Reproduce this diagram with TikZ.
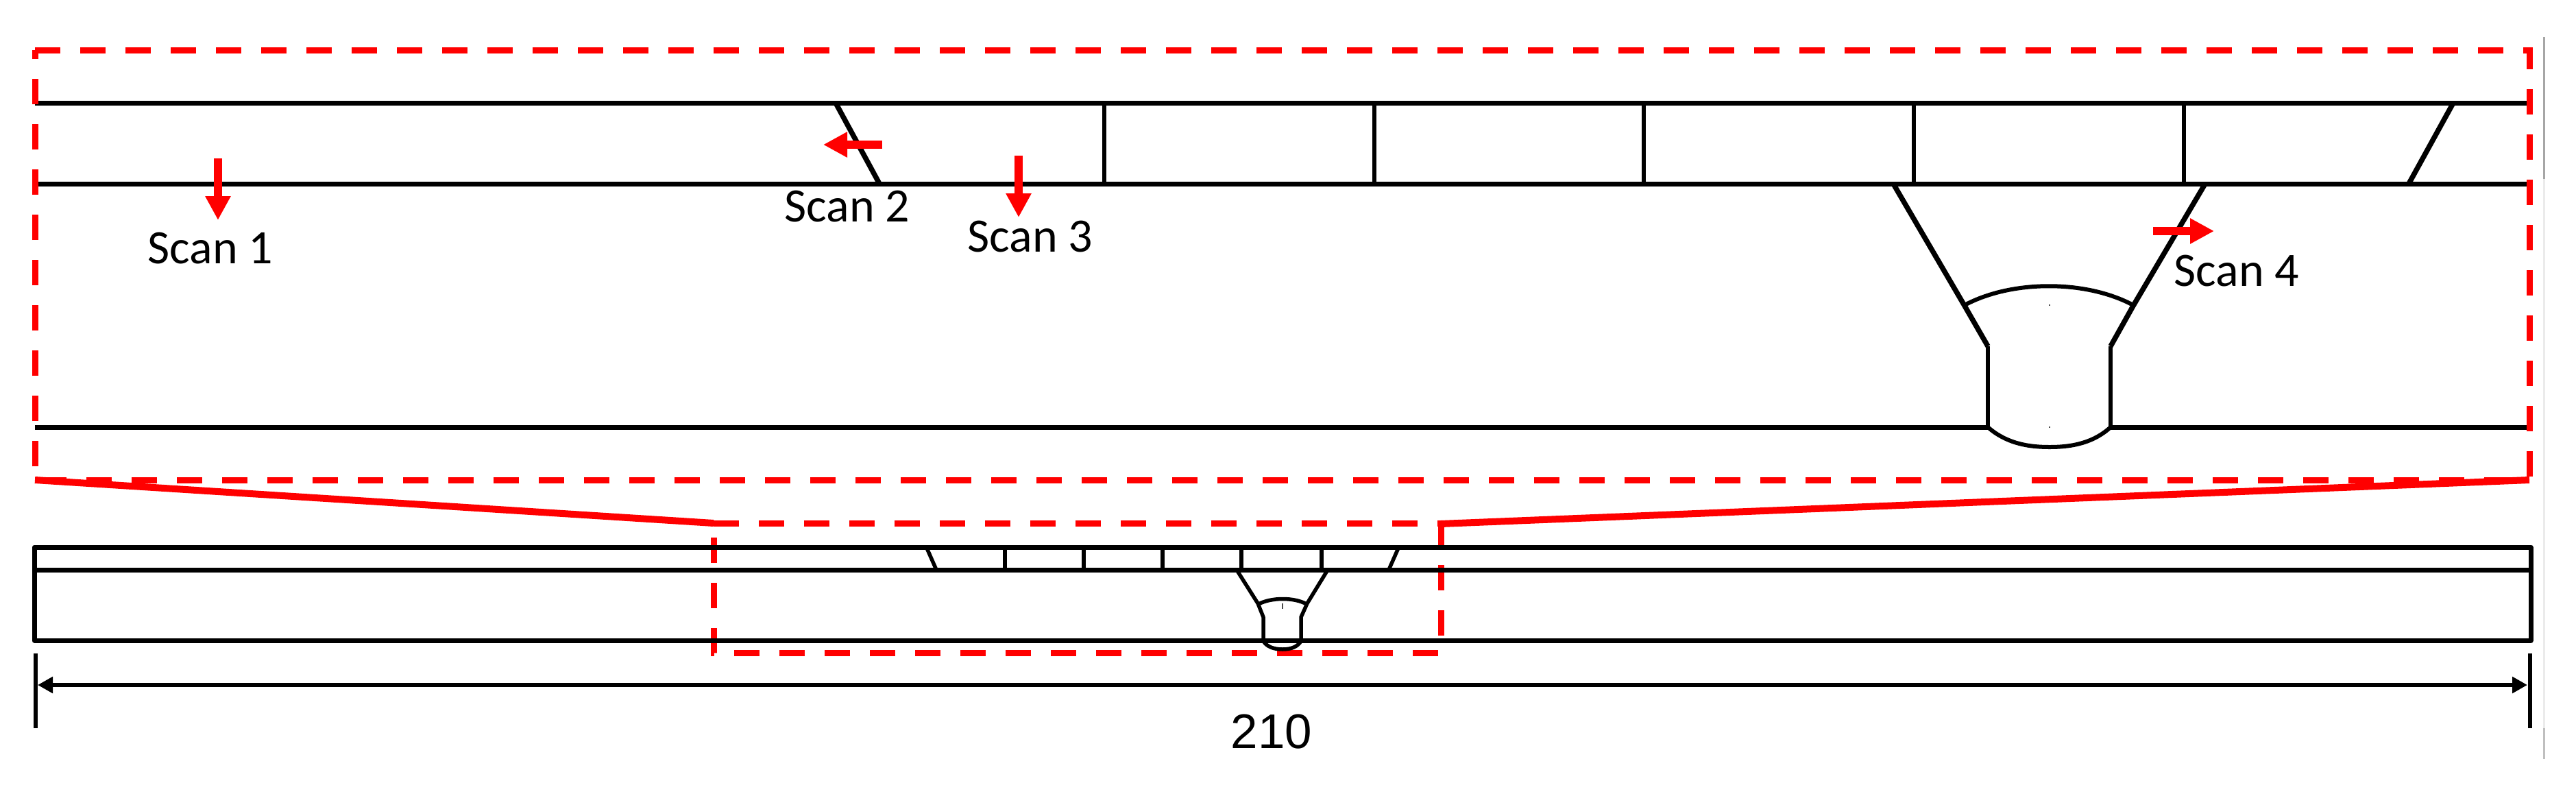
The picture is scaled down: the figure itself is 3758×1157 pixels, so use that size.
\documentclass[tikz,border=0pt]{standalone}
\usepackage{fontspec}
\setmainfont{Liberation Sans}
\newfontfamily\scanfont{Carlito}
\usetikzlibrary{arrows.meta}
\tikzset{
  x=1pt,y=-1pt,
  plate/.style={black,line width=7pt,line cap=butt},
  platebox/.style={black,line width=7pt,line join=round},
  thinweld/.style={black,line width=6.5pt,line join=round},
  slantweld/.style={black,line width=7.5pt,line join=round},
  capline/.style={black,line width=6pt,line join=round},
  smallweld/.style={black,line width=5.5pt,line join=round},
  reddash/.style={red,line width=9pt,line join=miter,dash pattern=on 37pt off 29pt},
  funnel/.style={red,line width=10pt},
  scanarrow/.style={red,line width=11.5pt,-{Triangle[length=35pt,width=35pt]}},
  scanlabel/.style={font=\scanfont\fontsize{70}{80}\selectfont,inner sep=0pt,text=black},
  dimline/.style={black,line width=6.5pt,{Triangle[length=22pt,width=23pt]}-{Triangle[length=22pt,width=23pt]}},
  dimtick/.style={black,line width=6.5pt},
  speck/.style={black!70,line width=1.5pt},
  edgeline/.style={line width=3pt}
}
\begin{document}
\begin{tikzpicture}
\useasboundingbox (0,0) rectangle (3758,1157);
% faint edge of the pasted image
\draw[edgeline,black!35] (3711,54) -- (3711,261);
\draw[edgeline,black!8] (3711,261) -- (3711,1062);
\draw[edgeline,black!25] (3711,1062) -- (3711,1107);

% enlarged section: plates
\draw[plate] (51,150) -- (3686,150);
\draw[plate] (51,268) -- (3686,268);
\draw[plate] (51,623) -- (2900,623);
\draw[plate] (3079,623) -- (3686,623);
% enlarged section: groove walls
\draw[slantweld] (1219,150) -- (1283,268);
\foreach \xx in {1611,2005,2398,2792,3186}{\draw[thinweld] (\xx,150) -- (\xx,268);}
\draw[slantweld] (3579,150) -- (3514,268);
\draw[slantweld] (2762,268) -- (2866,446) -- (2900,505);
\draw[thinweld] (2900,505) -- (2900,623);
\draw[slantweld] (3217,268) -- (3112,446) -- (3079,505);
\draw[thinweld] (3079,505) -- (3079,623);
\draw[capline] (2866,445) .. controls (2935,408) and (3043,408) .. (3112,445);
\draw[capline] (2900,623) .. controls (2925,645) and (2955,652) .. (2990,652) .. controls (3025,652) and (3055,645) .. (3079,623);
\draw[speck] (2990,444) -- (2990,446);
\draw[speck] (2990,622) -- (2990,624);

% red zoom frames
\draw[reddash] (51,73) -- (3690,73) -- (3690,700);
\draw[reddash,dash phase=37pt] (3690,700) -- (51,700) -- (51,73);
\draw[reddash] (1041,763) -- (2102,763) -- (2102,952) -- (1041,952) -- cycle;
\draw[funnel] (51,700) -- (1041,763);
\draw[funnel] (2102,764) -- (3690,700);

% lower overview
\draw[platebox] (50,798) rectangle (3692,934);
\draw[plate] (50,831) -- (3692,831);
\draw[smallweld] (1351,797) -- (1366,831);
\foreach \xx in {1466,1581,1696,1811,1928}{\draw[smallweld] (\xx,797) -- (\xx,831);}
\draw[smallweld] (2041,797) -- (2026,831);
\draw[smallweld] (1804,831) -- (1835,880) -- (1843,900) -- (1843,935);
\draw[smallweld] (1937,831) -- (1907,880) -- (1898,900) -- (1898,935);
\draw[smallweld] (1836,881) .. controls (1855,871) and (1888,871) .. (1906,881);
\draw[smallweld] (1843,935) .. controls (1848,943) and (1858,947) .. (1871,947) .. controls (1884,947) and (1893,943) .. (1898,935);
\draw[speck] (1871,880) -- (1871,888);

% dimension
\coordinate (dimL) at (55,999);
\coordinate (dimR) at (3687,999);
\draw[dimtick] (52,953) -- (52,1062);
\draw[dimtick] (3691,953) -- (3691,1062);
\draw[dimline] (dimL) -- (dimR);
\node[inner sep=0pt,font=\fontsize{71}{80}\selectfont] (dimtext) at (1855,1067) {210};

% scan arrows
\coordinate (s1a) at (318,231); \coordinate (s1b) at (318,321);
\coordinate (s2a) at (1287,211); \coordinate (s2b) at (1201,211);
\coordinate (s3a) at (1486,227); \coordinate (s3b) at (1486,317);
\coordinate (s4a) at (3141,337); \coordinate (s4b) at (3230,337);
\draw[scanarrow] (s1a) -- (s1b);
\draw[scanarrow] (s2a) -- (s2b);
\draw[scanarrow] (s3a) -- (s3b);
\draw[scanarrow] (s4a) -- (s4b);
\node[scanlabel] (scan1) at (307,362) {Scan 1};
\node[scanlabel] (scan2) at (1236,301) {Scan 2};
\node[scanlabel] (scan3) at (1503,345) {Scan 3};
\node[scanlabel] (scan4) at (3263,395) {Scan 4};
\end{tikzpicture}
\end{document}
